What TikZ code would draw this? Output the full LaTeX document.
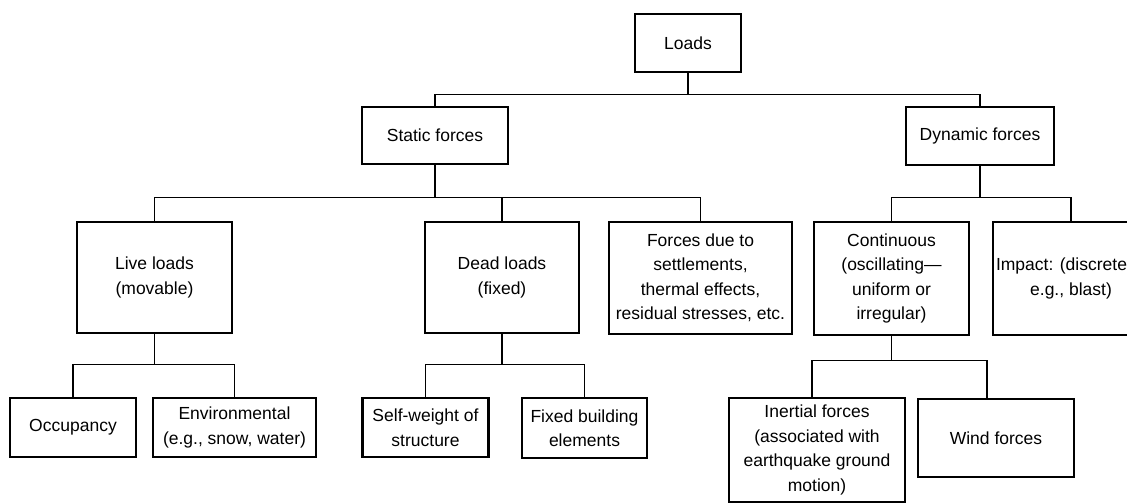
\documentclass[tikz,border=0pt]{standalone}
\usepackage{fontspec}
\setmainfont{Liberation Sans}
\tikzset{
  box/.style={draw, line width=2.6pt, align=center, inner sep=0pt,
    font=\fontsize{17.5}{24.5}\selectfont},
  link/.style={line width=1.5pt}
}
\begin{document}
\begin{tikzpicture}[x=1pt,y=-1pt]
  \clip (0,0) rectangle (1127,503);
  % boxes: name/x/y/width/height/text
  \foreach \name/\cx/\cy/\w/\h/\txt in {
    loads/688/43/106/58/{Loads},
    static/435/135.5/146/57/{Static forces},
    dynamic/980/136/148/58/{Dynamic forces},
    live/154.5/277.5/155/111/{Live loads\\(movable)},
    dead/502/277.5/154/111/{Dead loads\\(fixed)},
    forces/700.5/278/183/112/{Forces due to\\settlements,\\thermal effects,\\residual stresses, etc.},
    continuous/891.5/278.5/155/113/{Continuous\\(oscillating—\\uniform or\\irregular)},
    impact/1071/278.5/156/113/{Impact: (discrete\hspace*{19pt}\\e.g., blast)},
    occupancy/73/427.5/126/59/{Occupancy},
    environmental/234.5/427.5/163/59/{Environmental\\(e.g., snow, water)},
    selfweight/425.5/427.5/126/59/{Self-weight of\\structure},
    fixed/584.5/428/125/60/{Fixed building\\elements},
    inertial/817/450/176/104/{Inertial forces\\(associated with\\earthquake ground\\motion)},
    wind/996/438/156/78/{Wind forces}}{
    \node[box, minimum width=\w pt, minimum height=\h pt] (node\name) at (\cx,\cy) {\txt};
  }
  % tree links: parent/drop/child/shift
  \foreach \p/\d/\c/\s in {
    loads/21/static/0, loads/21/dynamic/0,
    static/32/live/0, static/32/dead/0, static/32/forces/0,
    dynamic/31/continuous/0, dynamic/31/impact/0,
    live/30/occupancy/0, live/30/environmental/0,
    dead/30/selfweight/0, dead/30/fixed/0,
    continuous/24/inertial/-5, continuous/24/wind/-9}{
    \draw[link] (node\p.south) -- ++(0,\d) -| ([xshift=\s pt]node\c.north);
  }
\end{tikzpicture}
\end{document}
